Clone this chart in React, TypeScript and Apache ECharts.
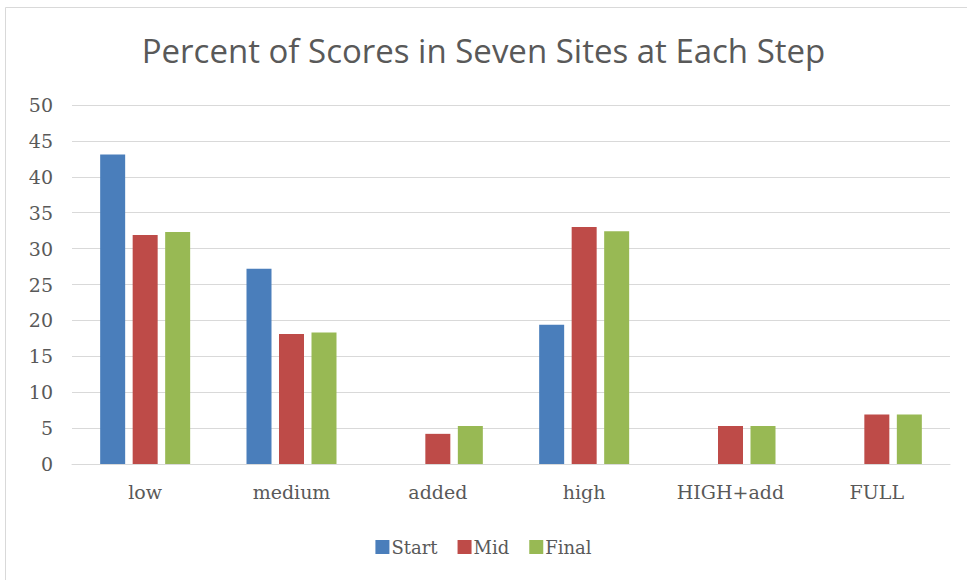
import React, { useEffect, useRef } from "react";
import * as echarts from "echarts";

const categories = ["low", "medium", "added", "high", "HIGH+add", "FULL"];
const startValues = [43.1, 27.2, 0, 19.4, 0, 0];
const midValues = [31.9, 18.1, 4.2, 33.0, 5.3, 6.9];
const finalValues = [32.3, 18.3, 5.3, 32.4, 5.3, 6.9];
const seriesNames = ["Start", "Mid", "Final"];
const colors = ["#4a7ebb", "#be4b48", "#98b954"];

export default function App() {
  const ref = useRef<HTMLDivElement>(null);
  useEffect(() => {
    if (!ref.current) return;
    const chart = echarts.init(ref.current, null, { renderer: "svg" });
    const serif = "'DejaVu Serif', 'Liberation Serif', serif";
    const data = [startValues, midValues, finalValues];
    chart.setOption({
      animation: false,
      backgroundColor: "#ffffff",
      title: {
        text: "Percent of Scores in Seven Sites at Each Step",
        left: "center",
        top: 29,
        textStyle: {
          fontFamily: "'Open Sans', 'Noto Sans', sans-serif",
          fontSize: 33,
          fontWeight: "normal",
          color: "#595959",
        },
      },
      graphic: [
        {
          type: "rect",
          shape: { x: 5.5, y: 7.5, width: 970, height: 580 },
          style: { fill: "none", stroke: "#d9d9d9", lineWidth: 1 },
          silent: true,
        },
      ],
      legend: {
        top: 533,
        left: "center",
        itemWidth: 14,
        itemHeight: 14,
        itemGap: 20,
        icon: "rect",
        textStyle: { fontFamily: serif, fontSize: 18, color: "#595959", padding: [0, 0, 0, -3] },
        data: seriesNames,
      },
      grid: { left: 72, right: 17, top: 105, bottom: 116 },
      xAxis: {
        type: "category",
        data: categories,
        axisLine: { lineStyle: { color: "#d9d9d9" } },
        axisTick: { show: false },
        axisLabel: { fontFamily: serif, fontSize: 19, color: "#595959", margin: 18 },
      },
      yAxis: {
        type: "value",
        min: 0,
        max: 50,
        interval: 5,
        axisLine: { show: false },
        axisTick: { show: false },
        splitLine: { lineStyle: { color: "#d9d9d9" } },
        axisLabel: { fontFamily: serif, fontSize: 19, color: "#595959", margin: 19 },
      },
      series: seriesNames.map((name, i) => ({
        name,
        type: "bar",
        data: data[i],
        barWidth: 25,
        barGap: "30%",
        itemStyle: { color: colors[i] },
      })),
    });
    return () => chart.dispose();
  }, []);
  return (
    <div
      ref={ref}
      style={{ position: "fixed", left: 0, top: 0, width: 967, height: 580 }}
    />
  );
}
